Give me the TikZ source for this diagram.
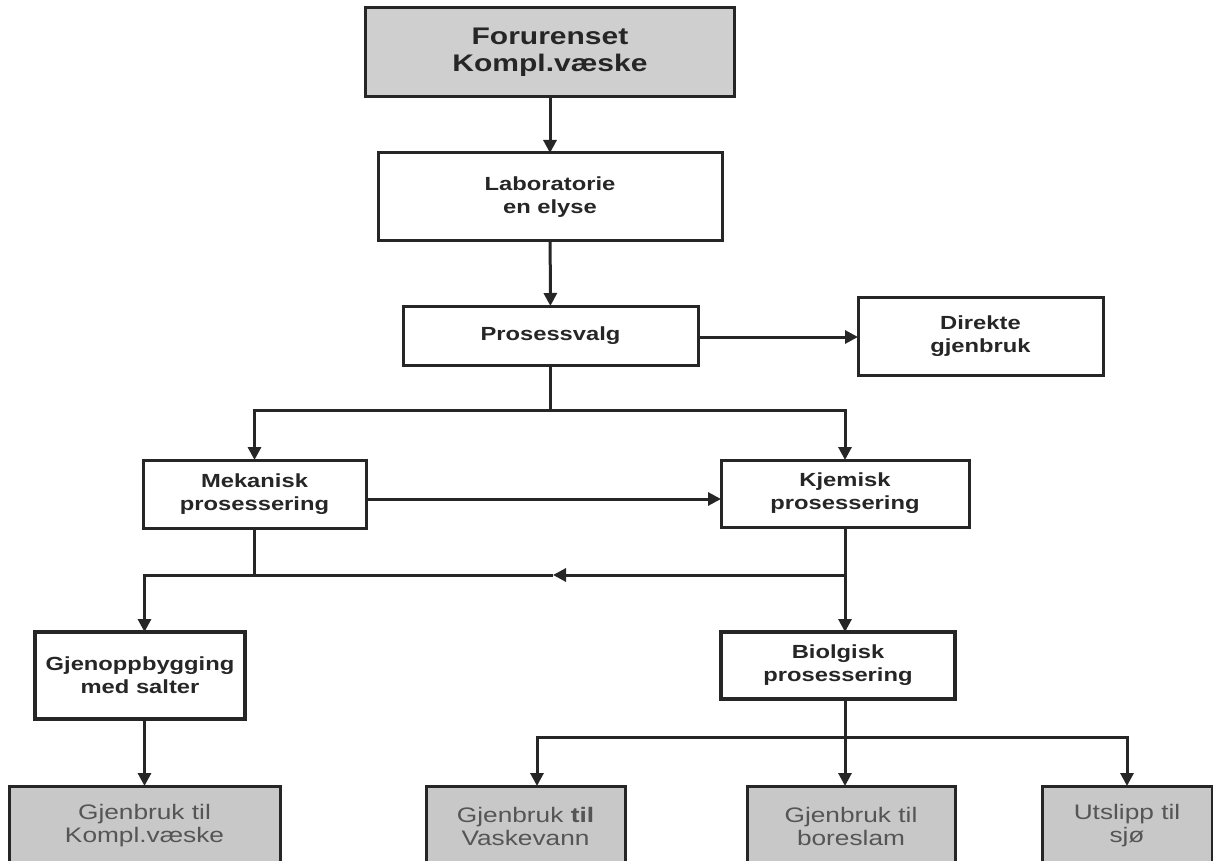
\documentclass[tikz,border=0pt]{standalone}
\usepackage{fontspec}
\setmainfont{Liberation Sans}[FakeStretch=1.25]
\usetikzlibrary{arrows.meta,calc}
\definecolor{boxgray}{HTML}{CFCFCF}
\definecolor{endgray}{HTML}{C8C8C8}
\definecolor{ink}{HTML}{262626}
\definecolor{softtext}{HTML}{555555}
\tikzset{
  box/.style={draw=ink, line width=3pt, fill=white, align=center, inner sep=0pt, outer sep=0pt, text=ink,
    font=\fontsize{19}{23}\selectfont\bfseries},
  thickbox/.style={box, line width=4.5pt},
  topbox/.style={box, fill=boxgray, font=\fontsize{24}{27}\selectfont\bfseries},
  endbox/.style={box, fill=endgray, text=softtext, font=\fontsize{21}{23}\selectfont, minimum height=80pt},
  conn/.style={draw=ink, line width=3pt},
  arr/.style={conn, -{Triangle[length=13pt,width=13pt]}},
}
\begin{document}
\begin{tikzpicture}[x=1pt,y=-1pt]
\useasboundingbox (0,0) rectangle (1213,861);
\clip (0,0) rectangle (1213,861);
\fill[white] (0,0) rectangle (1213,861);

\node[topbox, minimum width=369pt, minimum height=89pt] (top) at (550,52.5) {Forurenset\\Kompl.væske};
\node[box, minimum width=344pt, minimum height=88pt] (lab) at (550,197) {Laboratorie\\en elyse};
\node[box, minimum width=295pt, minimum height=59pt] (pv) at (550.5,335.5) {Prosessvalg};
\node[box, minimum width=245pt, minimum height=78pt] (dir) at (980.5,336) {Direkte\\gjenbruk};
\node[box, minimum width=223pt, minimum height=68pt] (mek) at (254.5,494) {Mekanisk\\prosessering};
\node[box, minimum width=248pt, minimum height=67pt] (kje) at (845,493.5) {Kjemisk\\prosessering};
\node[thickbox, minimum width=210pt, minimum height=87pt] (gje) at (140,675.5) {Gjenoppbygging\\med salter};
\node[thickbox, minimum width=234pt, minimum height=67pt] (bio) at (838,665.5) {Biolgisk\\prosessering};

\node[endbox, minimum width=271pt] (b1) at (144.5,826) {Gjenbruk til\\Kompl.væske};
\node[endbox, minimum width=199pt] (b2) at (525.5,826) {Gjenbruk \textbf{til}\\Vaskevann};
\node[endbox, minimum width=208pt] (b3) at (851,826) {Gjenbruk til\\boreslam};
\node[endbox, minimum width=170pt] (b4) at (1127,826) {Utslipp til\\sjø};

% top chain
\draw[arr] (top) -- (lab);
\draw[arr] (lab) -- (pv);
\draw[arr] (pv.east |- 0,337) -- (dir.west |- 0,337);

% split from Prosessvalg
\draw[conn] (pv.south) -- ++(0,45) coordinate (j1);
\draw[arr] (j1) -| (mek.north);
\draw[arr] (j1) -| (kje.north);

% Mekanisk -> Kjemisk
\draw[arr] (mek.east |- 0,499) -- (kje.west |- 0,499);

% Kjemisk down to Biolgisk, and return line to the left
\coordinate (j2) at ($(kje.south)+(0,48)$);
\coordinate (mid) at (553,575);
\draw[arr] (kje.south) -- (kje.south |- bio.north);
\draw[conn] (mek.south) -- (mek.south |- j2);
\draw[arr] (j2) -- (mid);
\draw[arr] (mid) -| (b1.north |- gje.north);
\draw[arr] (gje.south -| b1.north) -- (b1.north);

% Biolgisk to end boxes
\draw[conn] (kje.south |- bio.south) -- ++(0,38) coordinate (j3);
\draw[arr] (j3) -- (j3 |- b3.north);
\draw[arr] (j3) -| ($(b2.north)+(11.5,0)$);
\draw[arr] (j3) -| (b4.north);
\end{tikzpicture}
\end{document}
